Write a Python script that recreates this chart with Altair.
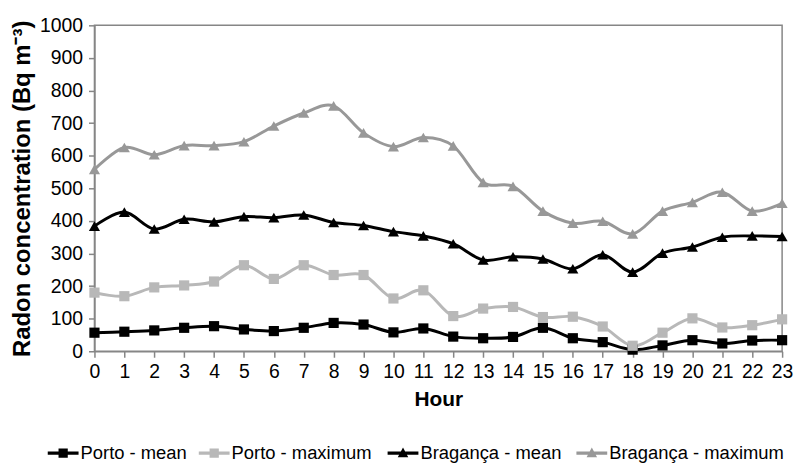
import altair as alt
import pandas as pd

hours = list(range(24))
series_names = ["Porto - mean", "Porto - maximum", "Bragança - mean", "Bragança - maximum"]
porto_mean = [57, 60, 64, 72, 77, 67, 62, 72, 87, 82, 58, 70, 45, 40, 44, 72, 40, 28, 5, 18, 34, 24, 33, 34]
porto_max = [180, 169, 196, 202, 214, 264, 222, 264, 234, 234, 162, 187, 108, 131, 136, 105, 106, 76, 17, 57, 101, 73, 80, 98]
braganca_mean = [384, 427, 375, 405, 397, 413, 410, 418, 395, 386, 367, 354, 330, 280, 290, 283, 253, 296, 243, 301, 320, 350, 354, 352]
braganca_max = [558, 625, 603, 631, 631, 643, 691, 731, 753, 670, 628, 656, 630, 518, 506, 430, 393, 399, 360, 430, 457, 488, 430, 454]
series_colors = ["#000000", "#B8B8B8", "#000000", "#989898"]
legend_x = [-47, 105, 295, 485]

rows = []
for name, vals in zip(series_names, [porto_mean, porto_max, braganca_mean, braganca_max]):
    for h, v in zip(hours, vals):
        rows.append({"Hour": h, "value": v, "series": name})
df = pd.DataFrame(rows)

FONT = "Liberation Sans"


def x_enc():
    return alt.X("Hour:Q", scale=alt.Scale(domain=[0, 23], nice=False, zero=False),
                 axis=alt.Axis(values=hours, format="d", title="Hour", grid=False,
                               labelOverlap=False, labelFlush=False, labelBound=False,
                               tickSize=6, labelPadding=5, titlePadding=8,
                               labelFontSize=19.5, titleFontSize=21, titleFontWeight="bold"))


def y_enc():
    return alt.Y("value:Q", scale=alt.Scale(domain=[0, 1000], nice=False),
                 axis=alt.Axis(values=list(range(0, 1001, 100)), format="d",
                               title="Radon concentration (Bq m⁻³)", labelOverlap=False,
                               labelFlush=False,
                               grid=False, tickSize=6, labelPadding=6, titlePadding=5,
                               labelFontSize=19.5, titleFontSize=24, titleFontWeight="bold"))


def color_enc():
    return alt.Color("series:N", scale=alt.Scale(domain=series_names, range=series_colors), legend=None)


base = alt.Chart(df)

lines = base.mark_line(interpolate="cardinal", strokeWidth=3).encode(
    x=x_enc(), y=y_enc(), color=color_enc(), detail="series:N",
)

squares = base.transform_filter(
    alt.FieldOneOfPredicate(field="series", oneOf=["Porto - mean", "Porto - maximum"])
).mark_point(shape="square", filled=True, size=105, opacity=1).encode(
    x=x_enc(), y=y_enc(), color=color_enc(),
)

triangles = base.transform_filter(
    alt.FieldOneOfPredicate(field="series", oneOf=["Bragança - mean", "Bragança - maximum"])
).mark_point(shape="triangle-up", filled=True, size=125, opacity=1).encode(
    x=x_enc(), y=y_enc(), color=color_enc(),
)

sq_path = "M-1,-0.1H1V0.1H-1Z M-0.3,-0.3H0.3V0.3H-0.3Z"
tri_path = "M-1,-0.1H1V0.1H-1Z M0,-0.36L0.34,0.26H-0.34Z"
legend_shapes = [sq_path, sq_path, tri_path, tri_path]

legend_layers = []
for name, col, lx, shp in zip(series_names, series_colors, legend_x, legend_shapes):
    leg = alt.Legend(title=None, orient="none", legendX=lx, legendY=415,
                     symbolType=shp, symbolSize=961, symbolOpacity=1, symbolStrokeWidth=0,
                     symbolFillColor=col, labelLimit=400,
                     labelFontSize=18.5, labelOffset=2, labelColor="#000000", padding=0)
    legend_layers.append(
        base.transform_filter(alt.datum.series == name).mark_point(
            shape=shp, filled=True, opacity=0
        ).encode(
            x=x_enc(), y=y_enc(),
            color=alt.Color("series:N", scale=alt.Scale(domain=[name], range=[col]), legend=leg),
        )
    )

chart = alt.layer(lines, squares, triangles, *legend_layers).resolve_scale(
    color="independent"
).properties(
    width=692, height=328,
    autosize=alt.AutoSizeParams(type="none"),
    padding={"left": 87, "top": 16, "right": 18, "bottom": 112},
).configure(
    font=FONT,
).configure_axis(
    domainColor="#868686", domainWidth=1.5, tickColor="#868686", tickWidth=1.5,
    labelColor="#000000", titleColor="#000000", labelFont=FONT, titleFont=FONT,
).configure_view(
    stroke="#868686", strokeWidth=1.5,
).configure_legend(
    labelFont=FONT,
)

chart.save("out.html", embed_options={"renderer": "svg", "actions": False})
